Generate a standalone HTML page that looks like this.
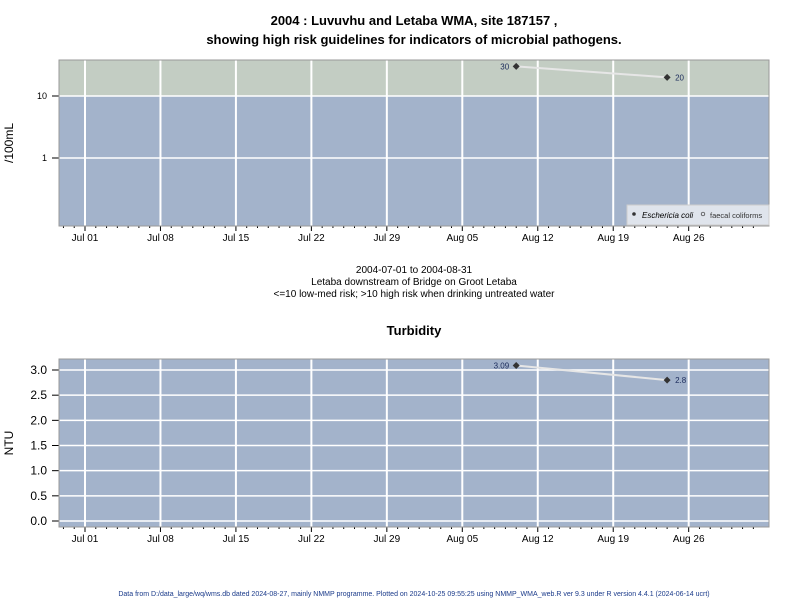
<!DOCTYPE html>
<html><head><meta charset="utf-8"><style>
body{margin:0;background:#fff;}
svg text{font-family:"Liberation Sans",Arial,sans-serif;}
</style></head><body>
<svg width="800" height="600" xmlns="http://www.w3.org/2000/svg" id="chart">
<text x="414" y="25" text-anchor="middle" font-size="13" font-weight="bold">2004 : Luvuvhu and Letaba WMA, site 187157 ,</text>
<text x="414" y="44" text-anchor="middle" font-size="13" font-weight="bold">showing high risk guidelines for indicators of microbial pathogens.</text>
<g id="topPanel"></g>
<text x="414" y="273" text-anchor="middle" font-size="10">2004-07-01 to 2004-08-31</text>
<text x="414" y="285" text-anchor="middle" font-size="10">Letaba downstream of Bridge on Groot Letaba</text>
<text x="414" y="297" text-anchor="middle" font-size="10">&lt;=10 low-med risk; &gt;10 high risk when drinking untreated water</text>
<text x="414" y="335" text-anchor="middle" font-size="13" font-weight="bold">Turbidity</text>
<g id="botPanel"></g>
<text x="414" y="596" text-anchor="middle" font-size="7" fill="#1a3a8a">Data from D:/data_large/wq/wms.db dated 2024-08-27, mainly NMMP programme. Plotted on 2024-10-25 09:55:25 using NMMP_WMA_web.R ver 9.3 under R version 4.4.1 (2024-06-14 ucrt)</text>
</svg>
<script>
const xTickLabels=["Jul 01","Jul 08","Jul 15","Jul 22","Jul 29","Aug 05","Aug 12","Aug 19","Aug 26"];
const xTickDays=[0,7,14,21,28,35,42,49,56];
const ecoliDays=[40,54];
const ecoliValues=[30,20];
const turbDays=[40,54];
const turbValues=[3.09,2.8];
const topTicks=[10,1];
const botTicks=[0,0.5,1,1.5,2,2.5,3];
const NS="http://www.w3.org/2000/svg";
const L=59,R=769;
function X(d){return 85+d*10.78;}
function mk(p,tag,at,txt){const e=document.createElementNS(NS,tag);for(const k in at)e.setAttribute(k,at[k]);if(txt!==undefined)e.textContent=txt;p.appendChild(e);return e;}
function yTop(v){return 96-Math.log10(v/10)*62;}
function yBot(v){return 521-v*50.33;}
function panel(g,T,B,yf,ticks,fmt,big){
 let r=mk(g,'rect',{x:L,y:T,width:R-L,height:B-T,fill:'#a3b3cb'});
 
 
 if(big){let gr=mk(g,'rect',{x:L,y:T,width:R-L,height:yf(10)-T,fill:'#c3cdc3'});
  
  }
 xTickDays.forEach((d,i)=>{let l=mk(g,'line',{x1:X(d),x2:X(d),y1:T,y2:B,stroke:'#fff','stroke-width':2});
  
  
  mk(g,'line',{x1:X(d),x2:X(d),y1:B,y2:B+5,stroke:'#000'});
  let t=mk(g,'text',{x:X(d),y:B+15,'text-anchor':'middle','font-size':10},xTickLabels[i]);
  
  });
 for(let d=-2;d<=63;d++){if(d%7)mk(g,'line',{x1:X(d),x2:X(d),y1:B,y2:B+2,stroke:'#000'});}
 ticks.forEach(v=>{let y=yf(v);let l=mk(g,'line',{x1:L,x2:R,y1:y,y2:y,stroke:'#fff','stroke-width':1.5});
  
  
  mk(g,'line',{x1:L-7,x2:L,y1:y,y2:y,stroke:'#000'});
  let t=mk(g,'text',{x:L-12,y:y+(big?3:4),'text-anchor':'end','font-size':big?9:12},fmt(v));
  
  });
 mk(g,'rect',{x:L,y:T,width:R-L,height:B-T,fill:'none',stroke:'#999'});
}
function series(g,days,vals,yf,fmt,name){
 let pts=days.map((d,i)=>X(d)+','+yf(vals[i])).join(' ');
 let pl=mk(g,'polyline',{points:pts,fill:'none',stroke:'#e6e6e6','stroke-width':2});
 
 
 days.forEach((d,i)=>{let x=X(d),y=yf(vals[i]);
  let p=mk(g,'path',{d:`M${x-3.5},${y}L${x},${y-3.5}L${x+3.5},${y}L${x},${y+3.5}Z`,fill:'#333'});
  
  
  let first=i===0;
  let t=mk(g,'text',{x:first?x-7:x+8,y:y+3,'text-anchor':first?'end':'start','font-size':8,fill:'#1a2a5a'},fmt(vals[i]));
  
  });
}
const topG=document.getElementById('topPanel'),botG=document.getElementById('botPanel');
panel(topG,60,226,yTop,topTicks,v=>String(v),true);
series(topG,ecoliDays,ecoliValues,yTop,v=>String(v),'ecoli');
let yl=mk(topG,'text',{x:0,y:0,transform:'translate(13,143) rotate(-90)','text-anchor':'middle','font-size':12},'/100mL');


let lg=mk(topG,'g',{});


mk(lg,'rect',{x:627,y:205,width:142,height:20,fill:'#dfe4ec',stroke:'#ccc'});
mk(lg,'circle',{cx:634,cy:214,r:1.8,fill:'#333'});
let le=mk(lg,'text',{x:642,y:218,'font-size':8,'font-style':'italic'},'Eschericia coli');


mk(lg,'circle',{cx:703,cy:214,r:1.8,fill:'none',stroke:'#333','stroke-width':0.7});
let lf=mk(lg,'text',{x:710,y:218,'font-size':7.5,fill:'#333'},'faecal coliforms');


panel(botG,359,527,yBot,botTicks,v=>v.toFixed(1),false);
series(botG,turbDays,turbValues,yBot,v=>String(v),'turbidity');
let yl2=mk(botG,'text',{x:0,y:0,transform:'translate(13,443) rotate(-90)','text-anchor':'middle','font-size':12},'NTU');


</script>
</body></html>
